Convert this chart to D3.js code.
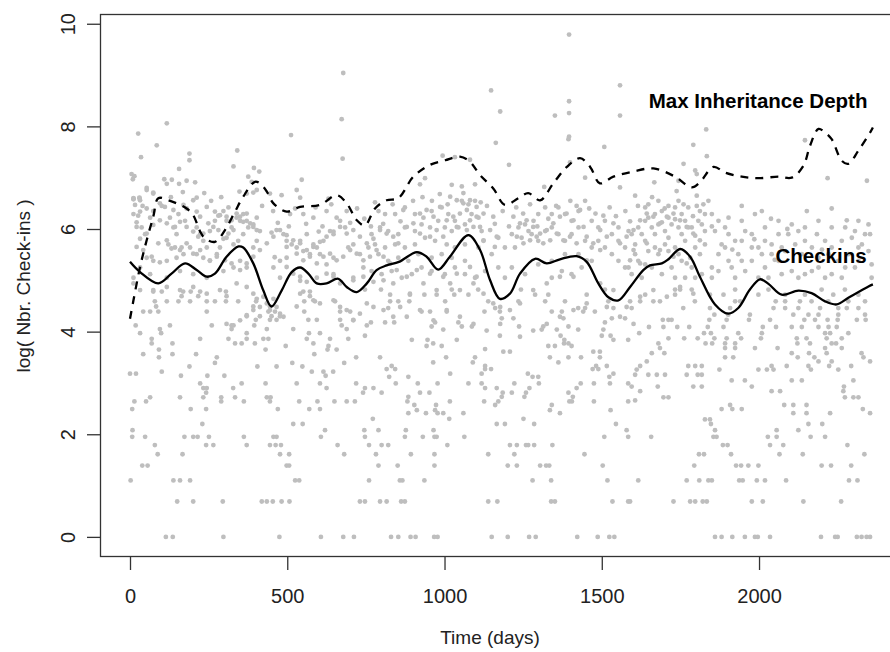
<!DOCTYPE html>
<html><head><meta charset="utf-8">
<script src="https://cdn.jsdelivr.net/npm/d3@7/dist/d3.min.js"></script>
<style>body{margin:0;background:#fff}svg{display:block}</style>
</head><body>
<svg id="chart" width="890" height="652"></svg>
<script>
// ---------- data ----------
const xTicks = [0, 500, 1000, 1500, 2000];
const yTicks = [0, 2, 4, 6, 8, 10];
const xTitle = "Time (days)";
const yTitle = "log( Nbr. Check-ins )";
const seriesLabels = [
  {text: "Max Inheritance Depth", day: 1997, value: 8.5},
  {text: "Checkins", day: 2197, value: 5.48}
];

// lower scatter: [log value, [days...]]
const rowsLeft = [
[0,[114,136,297,475,607,678,712]],
[0.69,[150,201,295,419,435,454,482,507,731]],
[1.1,[2,138,159,191,525,538]],
[1.39,[39,56,498,506]],
[1.61,[88,167,477,506,681]],
[1.79,[79,242,265,371,445,463,480,660]],
[1.95,[7,48,173,201,215,251,362,456,466,607]],
[2.08,[8,620,745]],
[2.2,[230,519,549]],
[2.49,[7,193,242,470,570,604]],
[2.64,[14,51,290,362,445,538,596,650,689,715]],
[2.72,[64,159,233,290,334,435,447]],
[2.81,[242,741]],
[2.9,[233,244,328,625]],
[2.99,[223,355,431,530,604,719]],
[3.14,[162,246,300,622]],
[3.18,[0,19]],
[3.22,[101,578,615,646]],
[3.32,[189,405,466,548]],
[3.39,[270,516,681]],
[3.5,[92,276,719]],
[3.56,[42,135,210,586]],
[3.65,[92,431,628,657]],
[3.72,[495,631]],
[3.77,[69,135,334,355,397,583]],
[3.86,[69,223,313,371,424,440,562,636,694]],
[3.97,[32,99,371,569,604]],
[4.05,[95,323,435,519,689]],
[4.12,[18,127,260,323,395,673,753]],
[4.23,[400,445,466,567,594,668,710]],
[4.3,[371,413,450,477]],
[4.39,[42,64,90,244,440,461,554,668,700]],
[4.49,[83,392,445,530]],
[4.59,[79,117,154,191,244,270,305,344,401,554,588,652]],
[4.69,[164,217,307,572]],
[4.78,[74,101,169,193,223,305,551,572]]
];
const rowsMid = [
[0,[830,853,892,908,967,978,1150,1201,1269,1290,1422,1487,1524,1540]],
[0.69,[747,795,816,862,874,1139,1168,1339,1351,1534,1584]],
[1.1,[760,858,866,936,1280,1339,1518]],
[1.39,[790,851,968,1201,1230,1304,1323,1333,1503]],
[1.61,[782,893,968,1139,1222,1445]],
[1.79,[760,800,821,1009,1208,1230,1259,1266,1285,1343]],
[1.95,[747,874,931,968,975,1063,1508,1584]],
[2.08,[790,877,965,1579]],
[2.2,[1166,1192,1285,1545]],
[2.3,[772,1015,1251]],
[2.41,[885,941,978,996,1060,1367]],
[2.47,[912,970,1335,1528]],
[2.57,[904,973,1161,1341]],
[2.64,[882,1017,1126,1171,1397,1405,1475,1584]],
[2.73,[885,1182,1254,1408]],
[2.81,[800,922,952,1185,1214,1259,1394]],
[2.9,[747,774,1129,1166,1270,1420]],
[2.99,[845,915,978,1076,1118,1222,1300,1433,1475,1526,1584]],
[3.12,[824,885,1280,1298,1524]],
[3.18,[1018,1118,1265,1537]],
[3.27,[816,843,1129,1148,1471,1489]],
[3.33,[832,1129,1482,1516]],
[3.4,[964,1090,1362]],
[3.5,[795,1005,1097,1335,1394,1434,1494]],
[3.61,[1187,1208,1473,1494]],
[3.66,[1129]],
[3.72,[943,991,1330,1351,1404]],
[3.77,[964,1380,1394]],
[3.84,[896,946,1039,1381,1537,1584]],
[3.92,[747,1176,1369,1500,1528]],
[4.04,[996,1309,1357,1425,1505]],
[4.1,[959,1055,1087,1237,1314,1394]],
[4.18,[766,811,840,970,1044,1510]],
[4.26,[1182,1219,1378,1532,1574]],
[4.39,[927,954,1007,1127,1176,1341,1373,1441,1478]],
[4.46,[821,1161,1425,1447,1537]],
[4.59,[827,853,888,1002,1139,1235,1320,1383,1521]],
[4.72,[827,890,936,975,1031,1076,1288,1330,1452]],
[4.82,[747,798,1023,1107,1243,1510]]
];
const rowsRight = [
[0,[1860,1881,1915,1955,1987,1996,2035,2197,2242,2250,2311,2326,2342,2353]],
[0.69,[1590,1728,1781,1797,1821,1834,1977,2012,2141,2261]],
[1.1,[1616,1770,1810,1839,1850,1937,1948,1993,2019,2086,2286,2313]],
[1.39,[1794,1927,1943,1966,1998,2199,2229,2293]],
[1.61,[1809,1825,1911,2065,2139,2335]],
[1.79,[1885,1900,2035,2077,2281]],
[1.95,[1657,1855,1865,2028,2056,2164,2210]],
[2.08,[1860,2056,2125]],
[2.2,[1847,2157,2201]],
[2.29,[1828,1844]],
[2.41,[2109,2151,2226,2353]],
[2.49,[1881,1915,1945,2330]],
[2.57,[1908,2080,2109,2151]],
[2.66,[1606]],
[2.72,[1696,1712,2273,2300,2316]],
[2.84,[1622,2040,2067,2268]],
[2.93,[1595,1678,1791,1818,1977,2270]],
[3.05,[1913,1955,2104,2136,2300]],
[3.16,[1606,1648,1675,1701,1770,1805,1818]],
[3.26,[1611,1874,1998,2025,2046,2165,2252]],
[3.33,[1622,1775,1797,1818,2040,2088,2157,2223,2293]],
[3.42,[1643,2189,2231,2353]],
[3.5,[1892,1918,2123,2176,2332]],
[3.58,[1659,1699,2104,2159,2215,2326]],
[3.68,[1685,1892,1924,1987,2059,2210,2263]],
[3.77,[1680,1830,1851,1892,1924,2122,2162,2231,2245]],
[3.87,[1712,1762,1805,1858,1897,1943,2006,2120,2151,2215,2263]],
[3.97,[1619,1825,1847,1934,2009,2210,2226,2284]],
[4.09,[1650,1696,1740,1778,1837,1887,2012,2054,2104,2136,2189,2221,2247]],
[4.23,[1694,1712,1722,1842,1897,1968,2035,2144,2178,2218,2250,2311,2339]],
[4.33,[1858,1902,1971,2109,2157,2189,2252,2337]],
[4.46,[1595,1759,1844,1908,2046,2083,2125,2194,2252,2279,2316]],
[4.59,[1590,1622,1664,1685,1796,1924,1940,2053,2083,2130,2167,2220,2284,2337]],
[4.72,[1638,1733,1844,1887,1998,2083,2146,2236,2316]],
[4.82,[1733,1749,1786,1924,2030,2199,2273]]
];

// upper band and outliers: [day, log value]
const bandPoints = [
[678,9.04],[673,8.14],[676,7.37],[117,8.06],[26,7.86],[85,7.63],[35,7.40],[189,7.47],[189,7.34],[512,7.83],
[341,7.53],[329,7.22],[156,7.17],[394,7.19],[411,7.12],[5,7.07],[14,7.03],[9,6.97],[109,6.97],[133,6.96],
[117,6.88],[156,6.88],[180,6.94],[207,6.91],[546,6.96],[376,7.02],[53,6.80],[74,6.71],[11,6.59],[30,6.61],
[212,6.61],[541,6.61],[631,6.59],[392,6.71],
[11,6.58],[30,6.60],[40,6.45],[11,6.29],[26,6.26],[21,6.13],[37,6.03],[48,5.90],[64,6.22],[74,6.35],
[101,6.45],[127,6.22],[138,6.03],[154,6.29],[175,6.16],[148,5.90],[122,5.70],[143,5.64],[164,5.64],[212,6.03],
[223,5.90],[233,5.77],[244,5.64],[254,5.96],[270,6.16],[281,6.26],[297,6.35],[313,6.42],[307,6.16],[323,6.03],
[339,6.22],[350,6.16],[360,6.29],[371,6.16],[376,6.03],[392,6.09],[403,6.22],[413,5.96],[360,5.90],[344,5.77],
[329,5.70],[307,5.83],[286,5.64],[276,5.51],[254,5.38],[233,5.44],[212,5.51],[191,5.64],[170,5.51],[148,5.44],
[117,5.38],[95,5.35],[74,5.38],[53,5.44],[32,5.25],[11,5.05],[64,5.12],[117,5.05],[159,5.18],[201,5.12],
[244,5.05],[297,5.18],[329,5.25],[350,5.38],[371,5.25],[392,5.64],[403,5.77],[450,5.93],[466,5.98],[488,5.90],
[498,5.77],[514,5.70],[530,5.64],[541,5.77],[562,5.90],[583,5.70],[551,5.57],[572,5.51],[594,5.64],[615,5.77],
[636,5.96],[647,5.90],[668,6.16],[684,6.03],[694,5.64],[710,5.70],[731,5.51],[647,5.44],[625,5.31],[604,5.51],
[498,5.44],[477,5.38],[456,5.25],[477,5.05],[541,4.99],[594,5.05],[647,5.12],[710,5.05],[742,5.25],[509,6.29],
[551,6.29],[583,6.22],[625,6.35],[657,6.22],[689,6.35],
[1396,9.79],[1148,8.70],[1177,8.29],[1396,8.49],[1396,8.26],[1351,8.21],[1558,8.80],[1558,8.21],[1163,7.68],[1394,7.75],
[1396,7.80],[1508,7.60],[1205,7.25],[994,7.43],[1033,7.40],[1081,7.35],[1399,7.30],[1447,7.00],[1558,6.81],[1317,6.82],
[1023,6.86],[1055,6.83],[1097,6.87],[938,6.99],[922,6.87],[779,6.52],[1155,6.24],[1553,6.03],[1505,6.26],
[790,6.35],[811,6.29],[843,6.29],[874,6.42],[906,6.29],[933,6.22],[959,6.35],[991,6.42],[1012,6.29],[1033,6.16],
[1055,6.55],[1076,6.48],[1097,6.55],[1086,6.29],[1108,6.22],[1065,6.09],[1044,6.03],[1023,5.96],[1001,6.03],[980,6.16],
[954,6.03],[927,6.09],[906,5.96],[874,6.03],[853,5.90],[821,5.96],[795,6.03],[768,5.90],[758,5.64],[779,5.70],
[811,5.64],[843,5.70],[874,5.64],[906,5.70],[938,5.83],[970,5.77],[1007,5.70],[1033,5.64],[1065,5.70],[1108,5.64],
[1118,5.96],[1124,5.77],[1150,5.51],[1171,5.25],[1224,5.64],[1245,5.83],[1267,5.96],[1283,6.16],[1298,6.29],[1320,6.42],
[1341,6.29],[1362,6.42],[1383,6.29],[1404,6.16],[1426,6.35],[1447,6.55],[1468,6.16],[1489,6.03],[1510,6.16],[1532,5.90],
[1553,5.77],[1574,5.64],[1235,6.03],[1256,6.09],[1277,5.90],[1298,5.77],[1320,5.96],[1341,6.03],[1362,5.90],[1383,5.77],
[1404,5.90],[1426,6.03],[1447,5.77],[1468,5.64],[1489,5.77],[1510,5.64],[1532,5.51],[1553,5.38],[1468,5.38],[1436,5.25],
[1404,5.12],[1373,5.18],[1341,5.05],[1256,5.12],[1214,5.25],[1192,5.05],[1129,5.18],[1097,5.05],[1065,5.12],[1033,5.25],
[1001,5.12],[959,5.18],[927,5.25],[896,5.12],[864,5.05],[832,5.18],[800,5.12],[768,5.18],[991,5.51],[959,5.44],
[917,5.51],[885,5.38],[853,5.44],[821,5.38],[790,5.51],[1023,5.44],[1065,5.38],[1192,5.64],[1171,5.83],[1214,5.90],
[1383,5.51],[1341,5.38],[1298,5.31],[1426,5.51],[1574,5.25],[1585,5.96],
[1832,7.94],[1791,7.64],[1834,7.42],[1760,7.27],[1797,7.14],[1802,7.07],[2218,6.99],[2343,6.94],[2146,7.73],[1667,6.91],
[1606,6.65],[1744,6.94],[1738,6.74],[1802,6.65],[1945,6.45],[1987,6.29],[2009,6.35],[2038,6.20],[2152,6.35],[2231,6.40],
[2279,6.17],[2305,5.96],[2353,5.90],
[1638,6.42],[1669,6.29],[1691,6.35],[1712,6.22],[1733,6.42],[1754,6.29],[1775,6.42],[1802,6.45],[1823,6.48],[1828,6.29],
[1807,6.16],[1786,6.03],[1765,6.16],[1744,6.03],[1722,6.09],[1701,5.96],[1680,6.09],[1659,6.03],[1638,6.16],[1616,6.03],
[1595,5.90],[1606,5.70],[1638,5.77],[1669,5.64],[1701,5.70],[1733,5.64],[1765,5.77],[1797,5.64],[1828,5.70],[1860,5.96],
[1892,6.03],[1903,5.90],[1881,5.70],[1945,5.77],[1977,5.90],[1998,5.64],[2019,5.77],[2040,5.51],[2072,5.64],[2093,5.90],
[2125,5.96],[2146,5.77],[2184,5.90],[2210,5.77],[2231,5.64],[2263,5.77],[2295,5.83],[2327,5.70],[2348,5.57],[2316,5.38],
[2274,5.25],[2231,5.12],[2189,5.25],[2146,5.12],[2104,5.18],[2062,5.38],[2019,5.25],[1977,5.38],[1934,5.51],[1903,5.38],
[1871,5.51],[1850,5.25],[1818,5.12],[1786,5.25],[1754,5.38],[1722,5.25],[1691,5.12],[1659,5.25],[1616,5.38],[1585,5.25],
[1627,5.05],[1765,5.05],[1924,5.05],[1956,5.18],[1998,5.05],[2358,5.05],[2358,5.31]
];
const bandPointsLeft = [
[53,6.76],[74,6.69],[387,6.92],[348,6.73],[371,6.69],[403,6.76],[445,6.69],[482,6.66],[530,6.76],[11,6.60],
[32,6.56],[16,6.47],[32,6.34],[53,6.40],[95,6.50],[111,6.43],[138,6.37],[170,6.47],[180,6.40],[201,6.56],
[212,6.34],[223,6.24],[244,6.43],[270,6.34],[286,6.27],[307,6.24],[323,6.17],[339,6.30],[350,6.24],[360,6.14],
[371,6.30],[382,6.11],[392,6.04],[403,5.98],[329,5.98],[313,5.91],[297,5.81],[281,5.98],[265,6.04],[249,6.11],
[233,5.91],[217,5.85],[201,5.95],[180,6.04],[159,6.14],[143,6.04],[117,6.11],[95,6.17],[74,6.08],[53,5.91],
[32,5.81],[21,6.04],[21,5.65],[42,5.59],[69,5.46],[90,5.72],[117,5.78],[132,5.62],[159,5.59],[180,5.72],
[201,5.52],[223,5.59],[254,5.39],[276,5.46],[302,5.39],[323,5.33],[350,5.20],[371,5.33],[392,5.46],[413,5.59],
[435,5.72],[456,5.85],[477,5.98],[498,5.88],[519,5.78],[541,5.72],[562,5.59],[583,5.65],[604,5.75],[625,5.85],
[647,5.95],[668,6.04],[689,5.91],[710,5.98],[731,5.85],[753,5.72],[774,5.81],[795,5.98],[816,5.91],[837,5.85],
[853,5.72],[498,5.65],[530,5.52],[551,5.39],[572,5.46],[594,5.33],[615,5.46],[636,5.52],[657,5.39],[678,5.46],
[700,5.59],[721,5.52],[742,5.39],[763,5.46],[784,5.59],[806,5.46],[827,5.33],[848,5.20],[498,5.26],[519,5.13],
[541,5.07],[562,4.97],[625,5.13],[647,5.07],[668,4.94],[710,5.00],[742,5.07],[774,4.97],[806,5.00],[837,4.94],
[11,4.94],[32,4.81],[74,4.81],[117,4.87],[159,4.81],[201,4.87],[244,4.74],[286,4.81],[339,4.94],[371,4.87],
[392,4.74],[403,4.64],[424,4.68],[435,4.55],[445,4.42],[456,4.64],[466,4.48],[477,4.35],[488,4.29],[413,4.48],
[392,4.42],[371,4.32],[350,4.22],[329,4.12],[307,4.15],[541,4.74],[583,4.61],[604,4.55],[647,4.61],[668,4.48],
[689,4.42],[710,4.22],[731,4.35],[753,4.55],[774,4.48],[806,4.42],[837,4.29],[859,4.48],
[420,6.45],[455,6.35],[470,6.12],[505,6.05],[525,6.40],[560,6.10],[590,6.42],[612,6.05],[640,6.48],[700,6.12],
[722,6.40],[745,6.20],[766,6.05],[290,6.62],[258,6.55],[236,6.70],[168,6.72],[130,6.62],[460,5.45],[600,5.95]
];
const bandPointsMid = [
[1018,6.63],[1039,6.56],[1060,6.50],[1081,6.56],[1102,6.43],[1071,6.37],[1049,6.30],[1028,6.24],[1007,6.17],[1081,6.17],
[1102,6.24],[1124,6.30],[1039,6.04],[1071,5.98],[1092,6.04],[1113,6.04],[986,6.43],[965,6.24],[943,6.37],[922,6.30],
[901,6.11],[880,6.04],[869,6.37],[922,5.91],[954,5.85],[975,5.98],[996,5.85],[1124,5.78],[1145,5.98],[1166,5.85],
[1219,6.24],[1240,6.11],[1261,6.17],[1282,6.04],[1304,5.91],[1325,5.98],[1230,5.85],[1251,5.72],[1272,5.78],[1293,5.85],
[1314,5.72],[1336,5.78],[1346,6.11],[1367,6.24],[1388,6.30],[1410,6.17],[1431,6.37],[1442,6.04],[1357,5.91],[1378,5.78],
[1399,5.85],[1420,5.72],[1452,5.85],[1473,5.72],[1495,5.98],[1516,5.85],[1537,6.11],[1558,5.72],[1579,5.85],[1601,5.98],
[1622,6.17],[1643,6.30],[1664,6.24],[1685,6.11],[1707,6.24],[1728,6.30],[1749,6.17],[1770,6.04],[1791,5.91],[1812,5.78],
[1601,5.59],[1643,5.72],[1685,5.59],[1728,5.46],[1770,5.33],[1590,5.39],[1622,5.33],[1495,5.59],[1452,5.39],[1410,5.07],
[1367,5.07],[1325,4.94],[1282,4.81],[1240,4.55],[1208,4.42],[1177,4.48],[1155,4.55],[1124,4.74],[1092,4.94],[1049,4.81],
[1018,4.94],[975,4.81],[933,4.94],[890,4.74],[880,5.07],[912,5.20],[954,5.13],[996,5.07],[1039,5.13],[1081,5.26],
[1102,5.07],[1495,4.94],[1537,4.81],[1579,4.48],[1622,4.68],[1664,4.81],[1707,4.68],[1749,4.87],[1791,4.74],[1516,4.48],
[1558,4.29],[1601,4.15],[1452,4.55],[1410,4.42],[1367,4.29],[1325,4.15],[1282,4.02],[1240,3.90],[1177,4.15],[1134,4.02],
[1092,4.15],[1049,4.29],[1007,4.42],[965,4.22],[922,4.42],[880,4.29],
[1135,6.45],[1160,6.10],[1185,6.35],[1205,6.05],[1228,6.42],[1250,6.30],[1272,6.48],[1295,6.05],[1330,6.20],[1355,6.45],
[1400,6.55],[1420,6.45],[1460,6.40],[1480,6.30],[1525,6.42],[1545,6.25],[1575,6.35],[1590,6.15],[1615,6.45],[900,6.55],
[930,6.62],[960,6.55],[985,6.68],[1010,6.48],[1060,6.70],[1115,6.52],[860,6.15],[835,6.48],[805,6.10],[1160,5.65]
];
const bandPointsRight = [
[1648,6.48],[1680,6.55],[1712,6.45],[1744,6.55],[1812,6.35],[1839,6.55],[1648,6.22],[1691,6.13],[1733,6.19],[1775,6.03],
[1818,6.09],[1627,5.90],[1669,5.90],[1712,5.83],[1754,5.90],[1797,5.87],[1828,5.96],[1648,5.57],[1680,5.51],[1712,5.57],
[1744,5.51],[1781,5.44],[1812,5.51],[1606,5.51],[1595,5.12],[1638,5.31],[1733,5.05],[1797,5.05],[1850,5.05],[1871,5.18],
[1913,5.25],[1945,5.38],[1977,5.64],[2009,5.51],[2040,5.70],[2062,5.90],[2083,5.57],[2115,5.70],[2136,5.51],[2168,5.64],
[2189,5.44],[2221,5.51],[2252,5.38],[2284,5.51],[2316,5.64],[2337,5.90],[2305,5.25],[2263,5.05],[2210,5.05],[2168,5.18],
[2125,5.05],[2072,5.12],[2030,5.05],[1892,5.64],[1924,5.77],[1956,5.96],[2019,6.03],[2062,6.16],[2104,6.09],[2146,6.03],
[2189,6.16],[2231,6.03],[2274,6.03],[2316,6.16],[2348,6.09],[1903,6.22],[1945,6.16],[1850,6.29],[1871,6.16],
[1660,6.62],[1700,6.40],[1760,6.48],[1790,6.25],[1850,6.05],[1915,5.60],[1985,5.80],[2050,5.40],[2090,6.00],[2200,5.60]
];

// smoothed series: [day, value]
const checkinsSmooth = [
[0,5.36],[32,5.16],[90,4.94],[132,5.13],[175,5.33],[212,5.20],[244,5.07],[270,5.13],[307,5.46],[345,5.66],
[360,5.64],[392,5.33],[424,4.80],[450,4.49],[482,4.80],[514,5.16],[541,5.25],[567,5.13],[594,4.94],[625,4.94],
[662,5.03],[689,4.87],[721,4.77],[753,4.94],[784,5.20],[816,5.29],[855,5.36],[912,5.55],[943,5.46],[980,5.21],
[1017,5.46],[1076,5.88],[1113,5.59],[1145,5.00],[1176,4.64],[1208,4.74],[1240,5.13],[1288,5.42],[1325,5.33],[1367,5.41],
[1420,5.47],[1452,5.36],[1489,4.94],[1521,4.67],[1553,4.61],[1590,4.87],[1632,5.20],[1653,5.29],[1691,5.33],[1712,5.41],
[1749,5.61],[1781,5.46],[1812,5.07],[1860,4.53],[1902,4.35],[1934,4.46],[1971,4.82],[2003,5.02],[2030,4.93],[2072,4.72],
[2125,4.80],[2167,4.75],[2210,4.59],[2247,4.53],[2284,4.66],[2348,4.88],[2362,4.92]
];
const maxDepthSmooth = [
[0,4.25],[11,4.61],[32,5.26],[53,5.78],[74,6.24],[90,6.60],[122,6.56],[180,6.40],[201,6.27],[223,5.95],
[238,5.82],[270,5.75],[302,5.98],[334,6.34],[360,6.63],[397,6.92],[413,6.89],[435,6.73],[456,6.50],[498,6.34],
[541,6.43],[604,6.47],[657,6.66],[689,6.50],[721,6.17],[747,6.07],[779,6.40],[816,6.56],[853,6.60],[901,7.02],
[954,7.25],[1002,7.34],[1049,7.41],[1081,7.31],[1113,7.05],[1155,6.79],[1192,6.47],[1235,6.60],[1266,6.70],[1304,6.56],
[1346,6.89],[1389,7.21],[1431,7.38],[1463,7.21],[1494,6.89],[1537,7.02],[1600,7.12],[1664,7.18],[1733,7.02],[1786,6.81],
[1812,6.91],[1855,7.21],[1892,7.10],[1945,7.02],[1998,6.99],[2062,7.02],[2104,7.00],[2141,7.23],[2162,7.62],[2189,7.95],
[2210,7.88],[2231,7.75],[2263,7.33],[2284,7.27],[2316,7.53],[2353,7.88],[2362,7.98]
];

// ---------- chart ----------
const svg = d3.select("#chart");
const font = "'Liberation Sans', Arial, sans-serif";
const x = d3.scaleLinear().domain([-95.4, 2480]).range([100, 910]);
const y = d3.scaleLinear().domain([-0.392, 10.19]).range([557, 14]);

const scatter = [];
[rowsLeft, rowsMid, rowsRight].forEach(rows =>
  rows.forEach(([v, days]) => days.forEach(d => scatter.push([d, v]))));
[bandPoints, bandPointsLeft, bandPointsMid, bandPointsRight].forEach(arr => arr.forEach(p => scatter.push(p)));

svg.append("g").selectAll("circle").data(scatter).join("circle")
  .attr("cx", d => x(d[0])).attr("cy", d => y(d[1]))
  .attr("r", 2.4).attr("fill", "#bebebe");

const line = d3.line().x(d => x(d[0])).y(d => y(d[1])).curve(d3.curveCatmullRom.alpha(0.5));
svg.append("path").datum(checkinsSmooth).attr("d", line)
  .attr("fill", "none").attr("stroke", "#000").attr("stroke-width", 2.3);
svg.append("path").datum(maxDepthSmooth).attr("d", line)
  .attr("fill", "none").attr("stroke", "#000").attr("stroke-width", 2.3)
  .attr("stroke-dasharray", "8,7");

// frame
svg.append("rect").attr("x", 100.5).attr("y", 14.5).attr("width", 809).attr("height", 542)
  .attr("fill", "none").attr("stroke", "#333").attr("stroke-width", 1.3);

// axes
const xAxis = svg.append("g").attr("transform", "translate(0,557)")
  .call(d3.axisBottom(x).tickValues(xTicks).tickSize(13).tickFormat(d3.format("d")));
xAxis.select(".domain").remove();
xAxis.selectAll("line").attr("stroke", "#333").attr("stroke-width", 1.3);
xAxis.selectAll("text").attr("y", 46).attr("dy", null)
  .attr("font-family", font).attr("font-size", 20).attr("fill", "#222");

const yAxis = svg.append("g").attr("transform", "translate(100,0)")
  .call(d3.axisLeft(y).tickValues(yTicks).tickSize(13).tickFormat(d3.format("d")));
yAxis.select(".domain").remove();
yAxis.selectAll("line").attr("stroke", "#333").attr("stroke-width", 1.3);
yAxis.selectAll("text").attr("x", null).attr("dy", null).attr("text-anchor", "middle")
  .attr("transform", "translate(-25,0) rotate(-90)")
  .attr("font-family", font).attr("font-size", 20).attr("fill", "#222");

// titles
svg.append("text").attr("x", 490).attr("y", 644).attr("text-anchor", "middle")
  .attr("font-family", font).attr("font-size", 19).attr("fill", "#222").text(xTitle);
svg.append("text").attr("transform", "translate(30,286) rotate(-90)").attr("text-anchor", "middle")
  .attr("font-family", font).attr("font-size", 19).attr("fill", "#222").text(yTitle);

// series labels
svg.append("g").selectAll("text").data(seriesLabels).join("text")
  .attr("x", d => x(d.day)).attr("y", d => y(d.value)).attr("dy", "0.36em")
  .attr("text-anchor", "middle").attr("font-family", font).attr("font-weight", "bold")
  .attr("font-size", 20.5).attr("fill", "#000").text(d => d.text);
</script>
</body></html>
